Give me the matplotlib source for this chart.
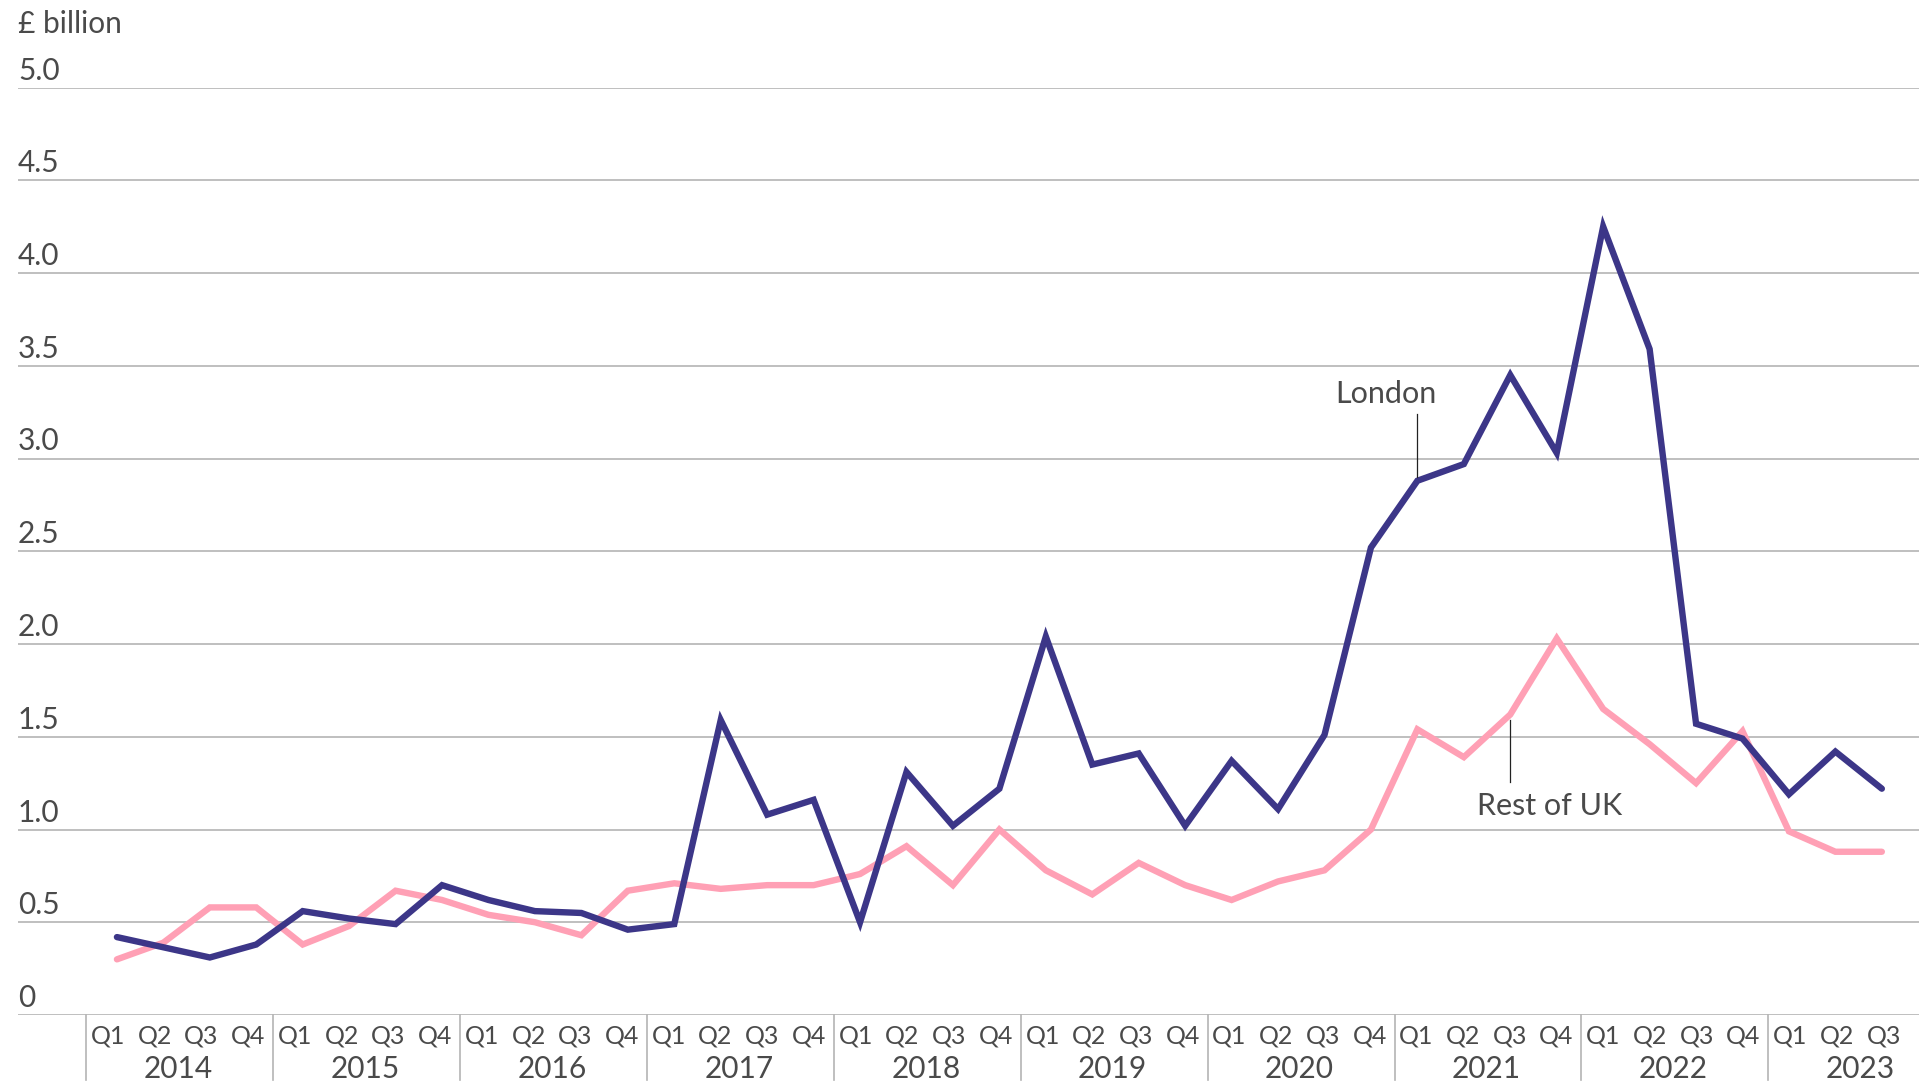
import matplotlib
matplotlib.use('Agg')
import matplotlib.pyplot as plt
import matplotlib.transforms as mtransforms
import numpy as np

years = ['2014', '2015', '2016', '2017', '2018', '2019', '2020', '2021', '2022', '2023']
quarters = ['Q1', 'Q2', 'Q3', 'Q4']

# £ billion, quarterly from 2014 Q1 to 2023 Q3
london = [0.42, 0.365, 0.31, 0.38,
          0.56, 0.52, 0.49, 0.70,
          0.62, 0.56, 0.55, 0.46,
          0.49, 1.59, 1.08, 1.16,
          0.50, 1.31, 1.02, 1.22,
          2.04, 1.35, 1.41, 1.02,
          1.37, 1.11, 1.51, 2.52,
          2.88, 2.97, 3.45, 3.03,
          4.25, 3.59, 1.57, 1.49,
          1.19, 1.42, 1.22]
rest_of_uk = [0.30, 0.39, 0.58, 0.58,
              0.38, 0.48, 0.67, 0.62,
              0.54, 0.50, 0.43, 0.67,
              0.71, 0.68, 0.70, 0.70,
              0.76, 0.91, 0.70, 1.00,
              0.78, 0.65, 0.82, 0.70,
              0.62, 0.72, 0.78, 1.00,
              1.54, 1.39, 1.62, 2.03,
              1.65, 1.46, 1.25, 1.53,
              0.99, 0.88, 0.88]

yticks = [0, 0.5, 1.0, 1.5, 2.0, 2.5, 3.0, 3.5, 4.0, 4.5, 5.0]
ytick_labels = ['0', '0.5', '1.0', '1.5', '2.0', '2.5', '3.0', '3.5', '4.0', '4.5', '5.0']

NAVY = '#3c3688'
PINK = '#ffa0b5'
GRID = '#b4b4b4'
TEXT = '#4a4a4a'
FONT = 'Lato'

W, H = 1931, 1085
fig = plt.figure(figsize=(W / 100, H / 100), dpi=100)
ax = fig.add_axes([18 / W, 1 - 1015 / H, (1919 - 18) / W, (1015 - 87.5) / H])

x = np.arange(len(london))
ax.plot(x, rest_of_uk, color=PINK, lw=4.6, solid_joinstyle='miter', solid_capstyle='round', zorder=3)
ax.plot(x, london, color=NAVY, lw=4.6, solid_joinstyle='miter', solid_capstyle='round', zorder=4)

ax.set_xlim(-2.13, 38.8)
ax.set_ylim(0, 5)
for s in ax.spines.values():
    s.set_visible(False)
ax.set_xticks([])
ax.set_yticks([])

# gridlines with labels sitting above them
ytrans = mtransforms.blended_transform_factory(ax.transAxes, ax.transData)
off = mtransforms.offset_copy(ytrans, fig=fig, x=0, y=8, units='dots')
for v, lab in zip(yticks, ytick_labels):
    ax.axhline(v, color=GRID, lw=1.2, zorder=1)
    ax.text(0, v, lab, transform=off, ha='left', va='baseline', fontsize=21.5,
            color=TEXT, family=FONT)
fig.text(18 / W, 1 - 33 / H, '£ billion', ha='left', va='baseline',
         fontsize=21.5, color=TEXT, family=FONT)

# category axis: quarters and years
xtrans = mtransforms.blended_transform_factory(ax.transData, ax.transAxes)
qpos = [-0.19 + i * 1.006 for i in range(len(london))]
for i, p in enumerate(qpos):
    ax.text(p, -0.0302, quarters[i % 4], transform=xtrans, ha='center', va='baseline',
            fontsize=18, color=TEXT, family=FONT, clip_on=False)
for k, yr in enumerate(years):
    left = qpos[4 * k] - 0.47
    ax.plot([left, left], [0, -0.07], transform=xtrans, color=GRID, lw=1.2, clip_on=False)
    cx = qpos[4 * k] + 1.5 * 1.006
    ax.text(cx, -0.0679, yr, transform=xtrans, ha='center', va='baseline',
            fontsize=21.5, color=TEXT, family=FONT, clip_on=False)

# direct labels with leader lines
i_lon = 28
ax.text(i_lon - 0.68, 3.30, 'London', ha='center', va='baseline', fontsize=22,
        color=TEXT, family=FONT)
ax.plot([i_lon, i_lon], [3.24, london[i_lon] + 0.02], color='#222222', lw=0.9, zorder=5)

i_uk = 30
ax.text(i_uk + 0.85, 1.20, 'Rest of UK', ha='center', va='top', fontsize=22,
        color=TEXT, family=FONT)
ax.plot([i_uk, i_uk], [rest_of_uk[i_uk] - 0.03, 1.256], color='#222222', lw=0.9, zorder=5)

fig.savefig('out.png', dpi=100)
